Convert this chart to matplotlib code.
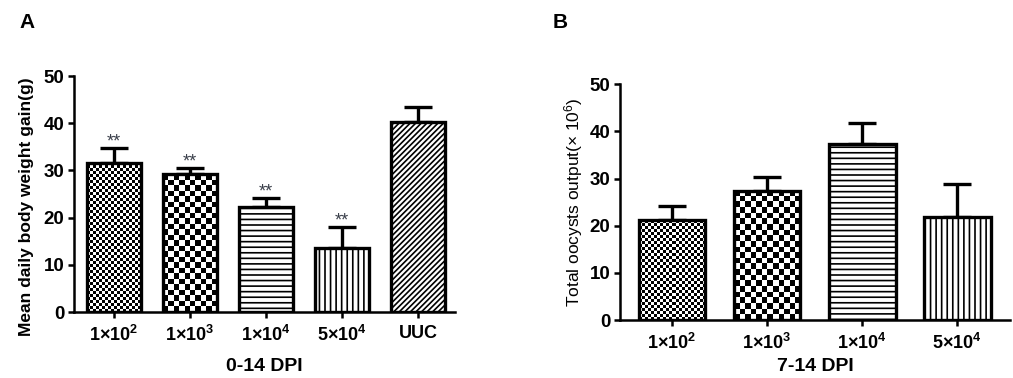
import matplotlib
matplotlib.use("Agg")
import matplotlib.pyplot as plt
import numpy as np

plt.rcParams['font.family'] = ['Liberation Sans', 'DejaVu Sans']
plt.rcParams['mathtext.default'] = 'regular'
plt.rcParams['hatch.linewidth'] = 1.2

# panel A: mean daily body weight gain
groups_a = ["1×10$^2$", "1×10$^3$", "1×10$^4$", "5×10$^4$", "UUC"]
gain = [31.6, 29.2, 22.2, 13.6, 40.3]
gain_err = [3.1, 1.4, 2.0, 4.5, 3.2]
stars_a = ["**", "**", "**", "**", ""]

# panel B: total oocyst output
groups_b = ["1×10$^2$", "1×10$^3$", "1×10$^4$", "5×10$^4$"]
oocysts = [21.2, 27.4, 37.3, 21.8]
oocysts_err = [2.9, 2.9, 4.6, 7.0]

fills = ["fine", "coarse", "---", "|||", "//////"]


def checker(ax, bar, sq):
    ext = bar.get_window_extent()
    nx = max(1, int(round(ext.width / sq)))
    ny = max(1, int(round(ext.height / sq)))
    yy, xx = np.indices((ny, nx))
    img = (yy + xx) % 2
    x0 = bar.get_x()
    im = ax.imshow(img, cmap='gray', origin='lower', interpolation='nearest',
                   aspect='auto', extent=(x0, x0 + bar.get_width(), 0, bar.get_height()),
                   zorder=2)
    im.set_clip_path(bar)


def panel(ax, labels, vals, errs, xl, yl, ylbold, xpad):
    x = np.arange(len(vals))
    ax.set_ylim(0, 50)
    bars = ax.bar(x, vals, width=0.7, facecolor='none', edgecolor='black',
                  linewidth=2.4, zorder=3)
    ax.errorbar(x, vals, yerr=[np.zeros(len(vals)), errs], fmt='none', ecolor='black',
                elinewidth=2.4, capsize=10, capthick=2.4, zorder=1)
    for b, f in zip(bars, fills):
        if f == "fine":
            checker(ax, b, 3.0)
        elif f == "coarse":
            checker(ax, b, 5.5)
        else:
            b.set_hatch(f)
            b.set_facecolor('white')
    ax.set_xticks(x)
    ax.set_xticklabels(labels, fontsize=13, fontweight='bold')
    ax.set_yticks([0, 10, 20, 30, 40, 50])
    for t in ax.get_yticklabels():
        t.set_fontsize(13.5)
        t.set_fontweight('bold')
    for s in ['top', 'right']:
        ax.spines[s].set_visible(False)
    for s in ['left', 'bottom']:
        ax.spines[s].set_linewidth(1.8)
    ax.tick_params(length=4, width=1.8, pad=3)
    ax.tick_params(axis='x', pad=5)
    ax.set_xlabel(xl, fontsize=14, fontweight='bold', labelpad=xpad)
    ax.set_ylabel(yl, fontsize=12.5, fontweight='bold' if ylbold else 'normal', labelpad=3)
    return x


fig = plt.figure(figsize=(10.13, 3.78), dpi=100)
axA = fig.add_axes([0.073, 0.1746, 0.3761, 0.6243])
axB = fig.add_axes([0.612, 0.1534, 0.385, 0.6235])

axA.set_xlim(-0.526, 4.487)
axB.set_xlim(-0.547, 3.553)

xa = panel(axA, groups_a, gain, gain_err, "0-14 DPI", "Mean daily body weight gain(g)", True, 10)
axA.yaxis.set_label_coords(-0.105, 0.445)
for xi, v, e, s in zip(xa, gain, gain_err, stars_a):
    if s:
        axA.text(xi, v + e + 0.3, s, ha='center', va='baseline', fontsize=13, color='#3a3f4a')

panel(axB, groups_b, oocysts, oocysts_err, "7-14 DPI", "Total oocysts output(× 10$^6$)", False, 4)

fig.text(0.019, 0.925, "A", fontsize=15, fontweight='bold')
fig.text(0.546, 0.925, "B", fontsize=15, fontweight='bold')

fig.savefig("out.png", dpi=100)
